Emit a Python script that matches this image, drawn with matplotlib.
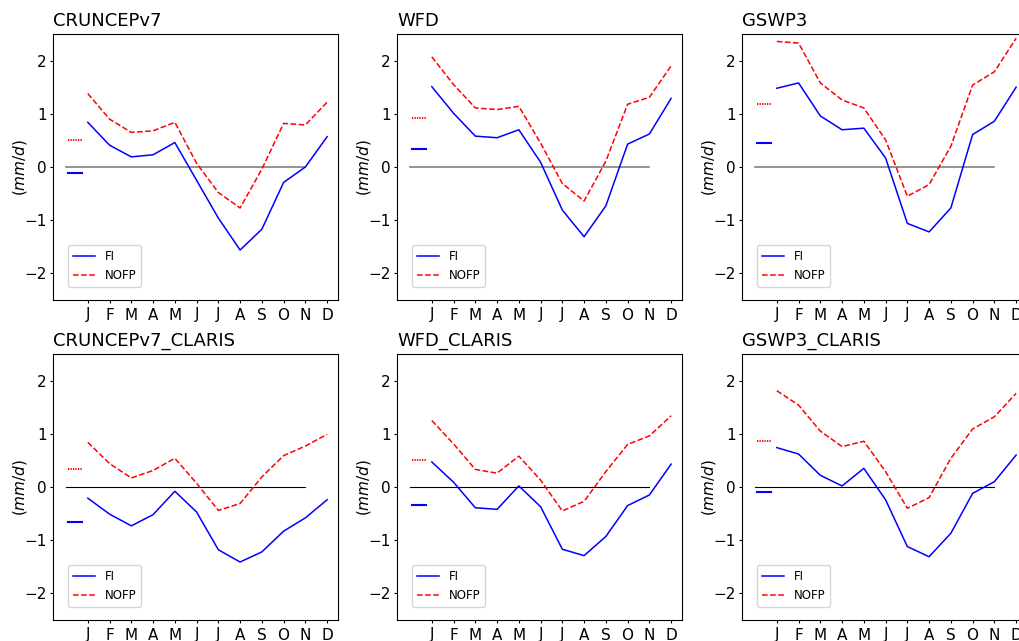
import matplotlib
matplotlib.use("Agg")
import matplotlib.pyplot as plt
import numpy as np

months = ["J", "F", "M", "A", "M", "J", "J", "A", "S", "O", "N", "D"]
titles = ["CRUNCEPv7", "WFD", "GSWP3",
          "CRUNCEPv7_CLARIS", "WFD_CLARIS", "GSWP3_CLARIS"]

# monthly anomalies (mm/d), one row per panel
fi_monthly = [
    [0.84, 0.41, 0.19, 0.23, 0.46, -0.25, -0.96, -1.56, -1.17, -0.29, 0.00, 0.57],
    [1.51, 1.01, 0.58, 0.55, 0.70, 0.09, -0.81, -1.31, -0.73, 0.43, 0.62, 1.29],
    [1.48, 1.58, 0.96, 0.70, 0.73, 0.17, -1.06, -1.22, -0.77, 0.61, 0.86, 1.50],
    [-0.21, -0.51, -0.73, -0.52, -0.08, -0.47, -1.18, -1.41, -1.22, -0.83, -0.58, -0.24],
    [0.47, 0.09, -0.39, -0.42, 0.02, -0.37, -1.17, -1.29, -0.93, -0.35, -0.15, 0.43],
    [0.74, 0.62, 0.22, 0.02, 0.35, -0.24, -1.12, -1.31, -0.87, -0.12, 0.10, 0.60],
]
nofp_monthly = [
    [1.38, 0.90, 0.65, 0.68, 0.84, 0.07, -0.48, -0.77, -0.04, 0.82, 0.79, 1.22],
    [2.07, 1.55, 1.11, 1.08, 1.14, 0.45, -0.31, -0.64, 0.11, 1.18, 1.31, 1.90],
    [2.36, 2.33, 1.58, 1.26, 1.11, 0.51, -0.55, -0.33, 0.39, 1.54, 1.79, 2.42],
    [0.84, 0.44, 0.17, 0.31, 0.54, 0.07, -0.44, -0.31, 0.19, 0.59, 0.77, 0.99],
    [1.25, 0.81, 0.33, 0.26, 0.58, 0.13, -0.45, -0.27, 0.29, 0.80, 0.96, 1.34],
    [1.81, 1.54, 1.05, 0.76, 0.86, 0.29, -0.40, -0.20, 0.54, 1.09, 1.32, 1.76],
]
# annual means drawn as short bars left of January
fi_annual = [-0.12, 0.33, 0.46, -0.66, -0.34, -0.09]
nofp_annual = [0.51, 0.92, 1.19, 0.34, 0.50, 0.86]

W, H = 1020, 641
fig = plt.figure(figsize=(W / 100, H / 100), dpi=100)

lefts = [53, 397, 742]
tops = [34, 354]
aw, ah = 285, 266

x = np.arange(12)
for i, title in enumerate(titles):
    row, col = divmod(i, 3)
    ax = fig.add_axes([lefts[col] / W, (H - tops[row] - ah) / H, aw / W, ah / H])

    zcol, zlw = ("gray", 1.2) if row == 0 else ("k", 0.8)
    ax.plot([-1, 10], [0, 0], color=zcol, linewidth=zlw)

    ax.plot([-0.9, -0.25], [fi_annual[i]] * 2, color="blue", linewidth=1.5)
    ax.plot([-0.9, -0.25], [nofp_annual[i]] * 2, color="red",
            linestyle=(0, (0.6, 0.6)), linewidth=1.5)

    ax.plot(x, fi_monthly[i], color="blue", linewidth=1.1, label="FI")
    ax.plot(x, nofp_monthly[i], color="red", linestyle="--", linewidth=1.1, label="NOFP")

    ax.set_xlim(-1.6, 11.5)
    ax.set_ylim(-2.5, 2.5)
    ax.set_xticks(x)
    ax.set_xticklabels(months)
    ax.set_yticks([-2, -1, 0, 1, 2])
    ax.tick_params(labelsize=11, length=2.2)
    ax.tick_params(axis="y", pad=2.2)
    ax.tick_params(axis="x", pad=3.2)
    ax.set_ylabel(r"$(mm/d)$", fontsize=11)
    ax.yaxis.set_label_coords(-0.083, 0.5)
    ax.set_title(title, loc="left", fontsize=13)
    ax.legend(loc="lower left", bbox_to_anchor=(0.053, 0.05), borderaxespad=0,
              fontsize=8.5, handlelength=1.9)

fig.savefig("out.png", dpi=100)
